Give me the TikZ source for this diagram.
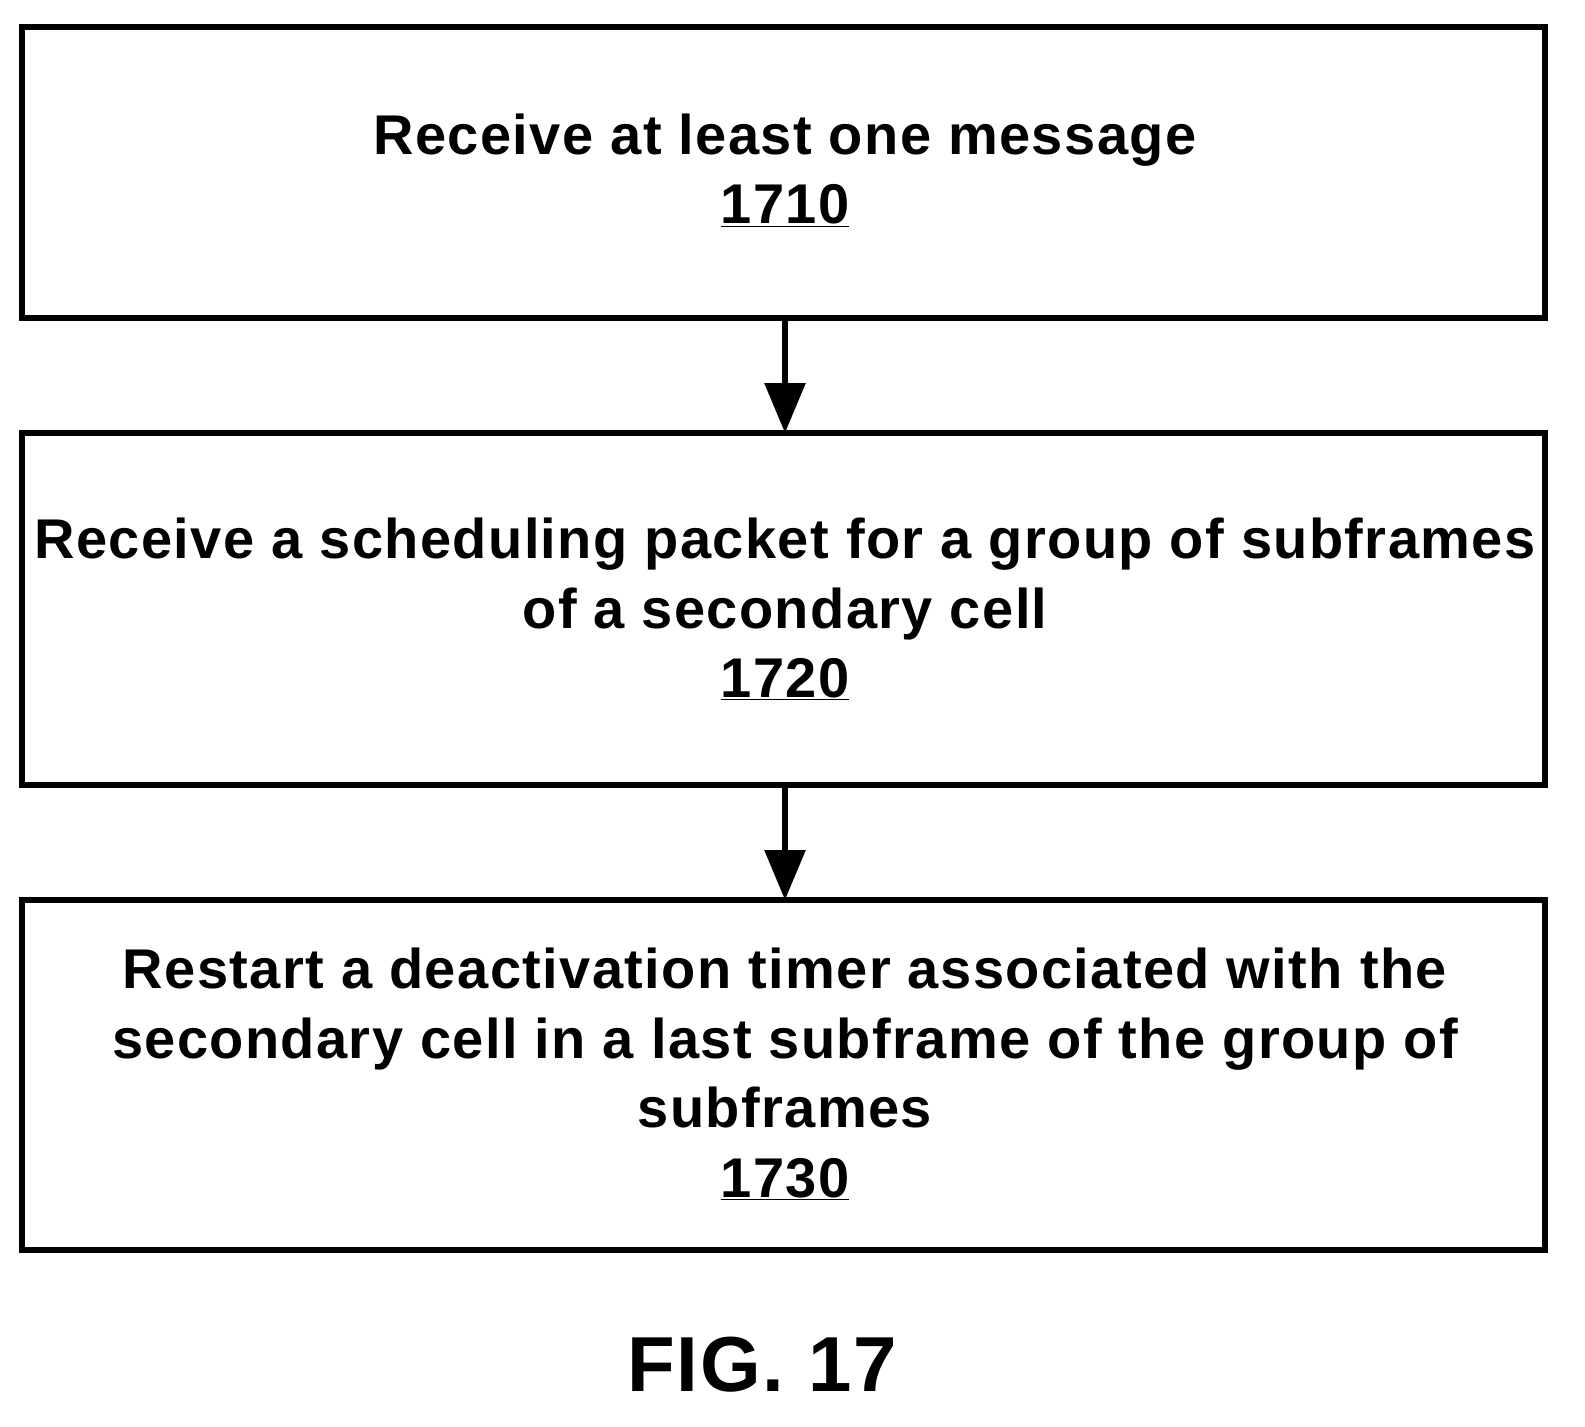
\documentclass[tikz,border=0pt]{standalone}
\usepackage{fontspec}
\setmainfont{Liberation Sans}[LetterSpace=2.5]
\usetikzlibrary{arrows.meta}
\begin{document}
\begin{tikzpicture}[x=1pt,y=-1pt,
  boxstyle/.style={draw,line width=6pt},
  txt/.style={align=center,font=\fontsize{56}{69.5}\selectfont\bfseries},
  arr/.style={line width=6pt,-{Triangle[length=50pt,width=40pt]}}]
\draw[boxstyle] (22,27) rectangle (1545,318);
\draw[boxstyle] (22,433) rectangle (1545,785);
\draw[boxstyle] (22,900) rectangle (1545,1250);
\coordinate (b1) at (785,318);
\coordinate (t2) at (785,433);
\coordinate (b2) at (785,785);
\coordinate (t3) at (785,900);
\node[txt] (n1) at (785,170) {Receive at least one message\\\underline{1710}};
\node[txt] (n2) at (785,609) {Receive a scheduling packet for a group of subframes\\of a secondary cell\\\underline{1720}};
\node[txt] (n3) at (785,1074) {Restart a deactivation timer associated with the\\secondary cell in a last subframe of the group of\\subframes\\\underline{1730}};
\draw[arr] (b1) -- (t2);
\draw[arr] (b2) -- (t3);
\node[font=\fontsize{78}{80}\selectfont\bfseries] (fig) at (762,1365) {FIG. 17};
\pgfresetboundingbox
\useasboundingbox (0,0) rectangle (1585,1427);
\end{tikzpicture}
\end{document}
